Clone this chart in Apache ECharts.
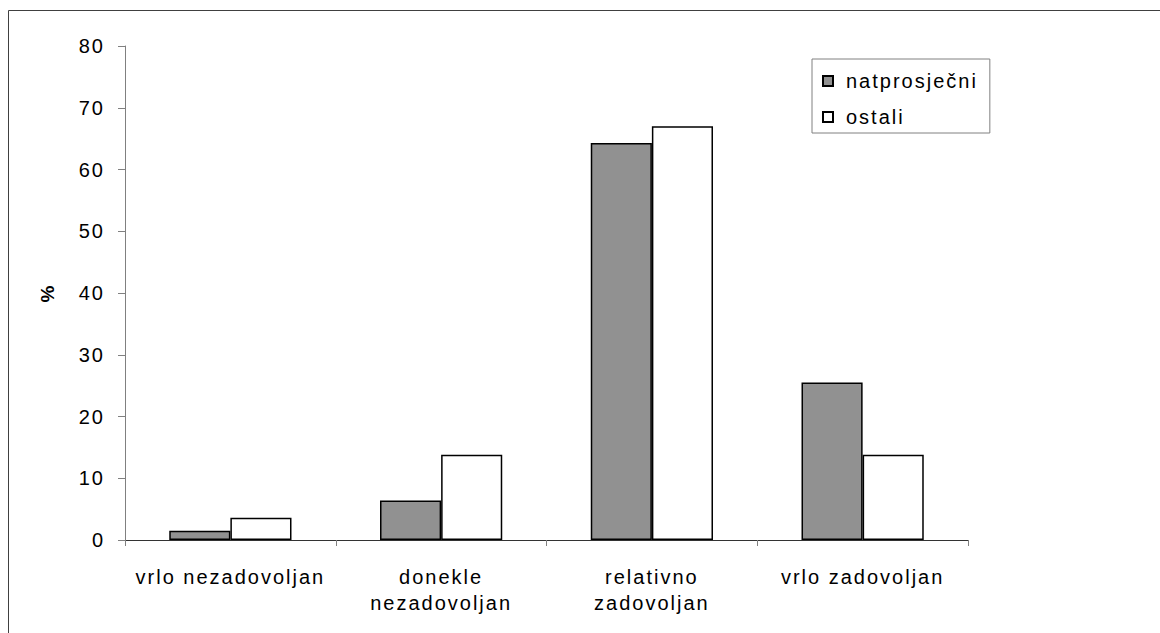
<!DOCTYPE html>
<html>
<head>
<meta charset="utf-8">
<script src="https://cdn.jsdelivr.net/npm/echarts@6/dist/echarts.min.js"></script>
<style>
  html, body { margin: 0; padding: 0; background: #fff; }
  #chart { width: 1160px; height: 633px; }
  #chart text { letter-spacing: 2px; }
</style>
</head>
<body>
<div id="chart"></div>
<script>
const categories = ['vrlo nezadovoljan', 'donekle\nnezadovoljan', 'relativno\nzadovoljan', 'vrlo zadovoljan']
const natprosjecni = [1.5, 6.4, 64.3, 25.5]
const ostali = [3.6, 13.8, 67.0, 13.8]
const seriesNames = ['natprosječni', 'ostali']

const chart = echarts.init(document.getElementById('chart'), null, { renderer: 'svg' })
const font = 'Liberation Sans, Arial, sans-serif'

const option = {
    animation: false,
    textStyle: { fontFamily: font },
    graphic: [{
        type: 'rect',
        shape: { x: 8.5, y: 10.5, width: 1300, height: 800 },
        style: { fill: 'none', stroke: '#404040', lineWidth: 1 }
    }],
    grid: { left: 125, right: 192, top: 46, bottom: 93 },
    legend: {
        orient: 'vertical',
        left: 812,
        top: 59,
        padding: [12, 36, 6, 10],
        itemGap: 16,
        itemWidth: 10,
        itemHeight: 10,
        icon: 'rect',
        borderColor: '#808080',
        borderWidth: 1,
        textStyle: { fontSize: 20, color: '#000', fontFamily: font, padding: [0, 0, 0, 8] },
        data: seriesNames
    },
    xAxis: {
        type: 'category',
        data: categories,
        axisLine: { lineStyle: { color: '#333', width: 1 } },
        axisTick: { show: true, length: 6, lineStyle: { color: '#808080' } },
        axisLabel: {
            fontSize: 20, color: '#000', lineHeight: 26, margin: 24,
            interval: 0, fontFamily: font
        }
    },
    yAxis: {
        type: 'value',
        min: 0,
        max: 80,
        interval: 10,
        name: '%',
        nameLocation: 'middle',
        nameRotate: 90,
        nameGap: 68,
        nameTextStyle: { fontSize: 19, fontWeight: 'bold', color: '#000', fontFamily: font },
        axisLine: { show: true, lineStyle: { color: '#808080' } },
        axisTick: { show: true, length: 7, lineStyle: { color: '#808080' } },
        axisLabel: { fontSize: 20, color: '#000', margin: 20, fontFamily: font },
        splitLine: { show: false }
    },
    series: [
        {
            name: seriesNames[0],
            type: 'bar',
            data: natprosjecni,
            barGap: '0%',
            barCategoryGap: '42%',
            itemStyle: { color: '#919191', borderColor: '#000', borderWidth: 1.5 }
        },
        {
            name: seriesNames[1],
            type: 'bar',
            data: ostali,
            barGap: '0%',
            barCategoryGap: '42%',
            itemStyle: { color: '#fff', borderColor: '#000', borderWidth: 1.5 }
        }
    ]
}

chart.setOption(option)
</script>
</body>
</html>
